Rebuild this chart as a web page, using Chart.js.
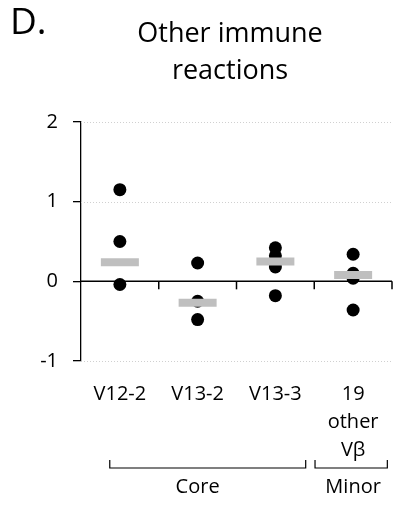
<!DOCTYPE html>
<html>
<head>
<meta charset="utf-8">
<script src="https://cdn.jsdelivr.net/npm/chart.js@4.4.1/dist/chart.umd.min.js"></script>
<style>
html,body{margin:0;padding:0;background:#fff;}
#wrap{width:419px;height:509px;position:relative;}
</style>
</head>
<body>
<div id="wrap"><canvas id="c" width="419" height="509"></canvas></div>
<script>
// ---- data ----
const categories = ['V12-2', 'V13-2', 'V13-3', ['19', 'other', 'Vβ']];
const v12_2 = [1.15, 0.50, -0.04];
const v13_2 = [0.23, -0.25, -0.48];
const v13_3 = [0.42, 0.32, 0.18, -0.18];
const otherVb = [0.34, 0.10, 0.04, -0.36];
const means = [0.24, -0.27, 0.25, 0.08];
const yTicks = [-1, 0, 1, 2];
const groups = [
  {label: 'Core', from: 0, to: 2},
  {label: 'Minor', from: 3, to: 3}
];
const titleLines = ['Other immune', 'reactions'];
const panelLabel = 'D.';

const FONT = '"Open Sans", Lato, sans-serif';

const pointSeries = [v12_2, v13_2, v13_3, otherVb];
const pointData = [];
pointSeries.forEach((arr, i) => arr.forEach(v => pointData.push({x: i, y: v})));
const meanData = means.map((v, i) => ({x: i, y: v}));

const decor = {
  id: 'decor',
  beforeDatasetsDraw(chart) {
    const {ctx, chartArea, scales} = chart;
    const x = scales.x, y = scales.y;
    ctx.save();
    // dotted grid lines
    ctx.strokeStyle = '#d0d0d0';
    ctx.lineWidth = 1;
    ctx.setLineDash([1, 2]);
    yTicks.forEach(t => {
      if (t === 0) return;
      const py = Math.round(y.getPixelForValue(t)) + 0.5;
      ctx.beginPath();
      ctx.moveTo(chartArea.left, py);
      ctx.lineTo(chartArea.right, py);
      ctx.stroke();
    });
    ctx.setLineDash([]);
    // zero axis line
    const y0 = y.getPixelForValue(0);
    ctx.strokeStyle = '#000';
    ctx.lineWidth = 1.5;
    ctx.beginPath();
    ctx.moveTo(chartArea.left, y0);
    ctx.lineTo(chartArea.right, y0);
    ctx.stroke();
    // tick marks at category boundaries
    for (let i = 0; i < categories.length; i++) {
      const px = x.getPixelForValue(i + 0.5);
      ctx.beginPath();
      ctx.moveTo(px, y0);
      ctx.lineTo(px, y0 + 8);
      ctx.stroke();
    }
    ctx.restore();
  },
  afterDraw(chart) {
    const {ctx, scales} = chart;
    const x = scales.x;
    ctx.save();
    ctx.fillStyle = '#000';
    ctx.textBaseline = 'alphabetic';
    // panel label
    ctx.font = '37px ' + FONT;
    ctx.textAlign = 'left';
    ctx.fillText(panelLabel, 10, 34);
    // title
    ctx.font = '27px ' + FONT;
    ctx.textAlign = 'center';
    titleLines.forEach((l, i) => ctx.fillText(l, 230, 42 + i * 37));
    // group brackets
    ctx.strokeStyle = '#000';
    ctx.lineWidth = 1.2;
    const insetL = [0.37, 0.01], insetR = [0.11, 0.06];
    groups.forEach((g, k) => {
      const x1 = x.getPixelForValue(g.from - 0.5 + insetL[k]);
      const x2 = x.getPixelForValue(g.to + 0.5 - insetR[k]);
      ctx.beginPath();
      ctx.moveTo(x1, 460);
      ctx.lineTo(x1, 468);
      ctx.lineTo(x2, 468);
      ctx.lineTo(x2, 460);
      ctx.stroke();
      ctx.font = '20px ' + FONT;
      ctx.fillText(g.label, x.getPixelForValue((g.from + g.to) / 2), 493);
    });
    ctx.restore();
  }
};

new Chart(document.getElementById('c'), {
  type: 'scatter',
  data: {
    datasets: [
      {
        label: 'mean',
        data: meanData,
        order: 0,
        pointStyle: 'line',
        radius: 19,
        borderWidth: 8,
        borderColor: '#bfbfbf',
        backgroundColor: '#bfbfbf'
      },
      {
        label: 'values',
        data: pointData,
        order: 1,
        pointStyle: 'circle',
        radius: 6.5,
        borderWidth: 0,
        backgroundColor: '#000',
        borderColor: '#000'
      }
    ]
  },
  options: {
    responsive: false,
    animation: false,
    events: [],
    layout: {padding: {top: 122, right: 11, left: 0, bottom: 0}},
    plugins: {legend: {display: false}, tooltip: {enabled: false}, title: {display: false}},
    scales: {
      x: {
        type: 'linear',
        min: -0.5, max: 3.5,
        afterBuildTicks(s) { s.ticks = categories.map((c, i) => ({value: i})); },
        grid: {display: false},
        border: {display: false},
        ticks: {
          color: '#000', font: {family: FONT, size: 20, lineHeight: 1.4}, padding: 11,
          maxRotation: 0, autoSkip: false,
          callback: (v) => categories[v]
        },
        afterFit(s) { s.height = 148; }
      },
      y: {
        min: -1, max: 2,
        afterBuildTicks(s) { s.ticks = yTicks.map(v => ({value: v})); },
        grid: {drawOnChartArea: false, drawTicks: true, tickLength: 8, color: '#000', tickColor: '#000', lineWidth: 1.3},
        border: {display: true, color: '#000', width: 1.3},
        ticks: {color: '#000', font: {family: FONT, size: 20}, padding: 15},
        afterFit(s) { s.width = 81; }
      }
    }
  },
  plugins: [decor]
});
</script>
</body>
</html>
